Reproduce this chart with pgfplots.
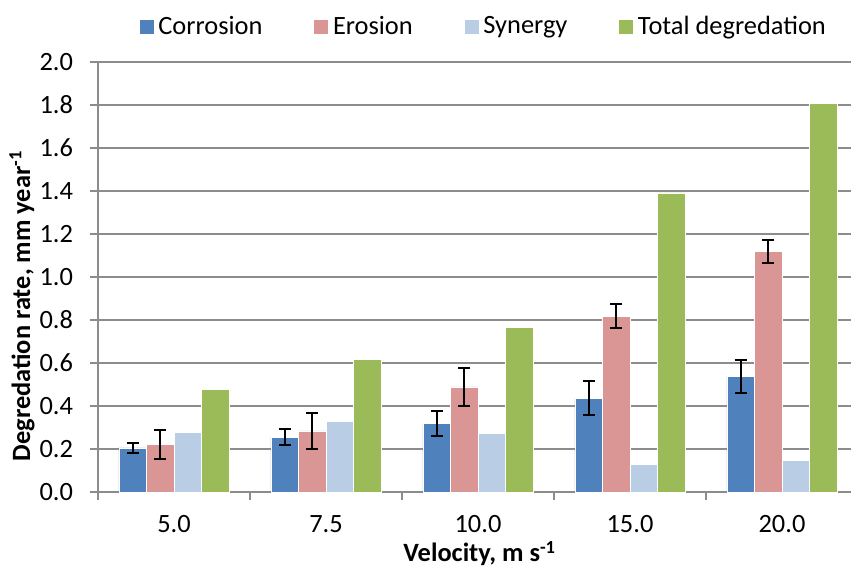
\documentclass[border=0pt]{standalone}
\usepackage{fontspec}
\setmainfont{Carlito}
\usepackage{pgfplots}
\pgfplotsset{compat=1.18}
\usepackage{pgfplotstable}
\definecolor{cC}{HTML}{4F81BD}
\definecolor{cE}{HTML}{DA9694}
\definecolor{cS}{HTML}{B9CDE5}
\definecolor{cT}{HTML}{9BBB59}
\definecolor{axgray}{HTML}{8C8C8C}
\pgfplotstableread{
x C Cerr E Eerr S T
0 0.205 0.025 0.222 0.067 0.279 0.476
1 0.255 0.038 0.284 0.085 0.330 0.617
2 0.318 0.059 0.489 0.089 0.274 0.767
3 0.437 0.079 0.818 0.055 0.128 1.391
4 0.537 0.075 1.118 0.054 0.146 1.808
}\data
\begin{document}
\begin{tikzpicture}
\begin{axis}[
  scale only axis, width=376.5pt, height=215pt,
  font=\fontsize{13.2}{15}\selectfont,
  xmin=-0.5, xmax=4.454, ymin=0, ymax=2,
  ybar=0pt, bar width=0.181,
  axis x line*=bottom, axis y line*=left,
  axis line style={color=axgray, line width=0.75pt},
  ytick={0,0.2,0.4,0.6,0.8,1.0,1.2,1.4,1.6,1.8,2.0},
  yticklabel style={xshift=-5pt, /pgf/number format/.cd, fixed, fixed zerofill, precision=1},
  /pgf/number format/assume math mode=true,
  xtick={0,1,2,3,4}, xticklabels={5.0,7.5,10.0,15.0,20.0},
  major x tick style={draw=none},
  minor xtick={-0.5,0.5,1.5,2.5,3.5},
  tick align=outside,
  major tick length=4pt, minor tick length=4pt,
  tick style={color=axgray, line width=0.75pt},
  xticklabel style={yshift=-6.5pt, inner sep=1pt},
  ymajorgrids, grid style={color=axgray, line width=0.75pt},
  xlabel={\textbf{Velocity, m s\textsuperscript{-1}}},
  ylabel={\textbf{Degredation rate, mm year\textsuperscript{-1}}},
  xlabel style={at={(axis description cs:0.507,-0.143)}, anchor=center, inner sep=0pt},
  ylabel style={at={(axis description cs:-0.101,0.433)}, anchor=center},
  legend columns=-1,
  legend style={at={(0.513,1)}, anchor=center, yshift=17.75pt, draw=none, fill=none,
    /tikz/every even column/.append style={column sep=23.5pt}},
  legend image code/.code={\fill[#1] (0pt,-3.75pt) rectangle (7.5pt,3.75pt);},
  error bars/error bar style={black, line width=1pt},
  error bars/error mark options={rotate=90, mark size=3pt, line width=1pt, black},
]
\addplot[fill=cC, draw=white, line width=0.3pt,
  error bars/.cd, y dir=both, y explicit] table[x=x, y=C, y error=Cerr] {\data};
\addplot[fill=cE, draw=white, line width=0.3pt,
  error bars/.cd, y dir=both, y explicit] table[x=x, y=E, y error=Eerr] {\data};
\addplot[fill=cS, draw=white, line width=0.3pt] table[x=x, y=S] {\data};
\addplot[fill=cT, draw=white, line width=0.3pt] table[x=x, y=T] {\data};
\legend{Corrosion, Erosion, Synergy, Total degredation}
\coordinate (o) at (rel axis cs:0,0);
\end{axis}
\pgfresetboundingbox
\path[use as bounding box] ([shift={(-49pt,-37.5pt)}]o) rectangle ([shift={(376.5pt,246pt)}]o);
\end{tikzpicture}
\end{document}
